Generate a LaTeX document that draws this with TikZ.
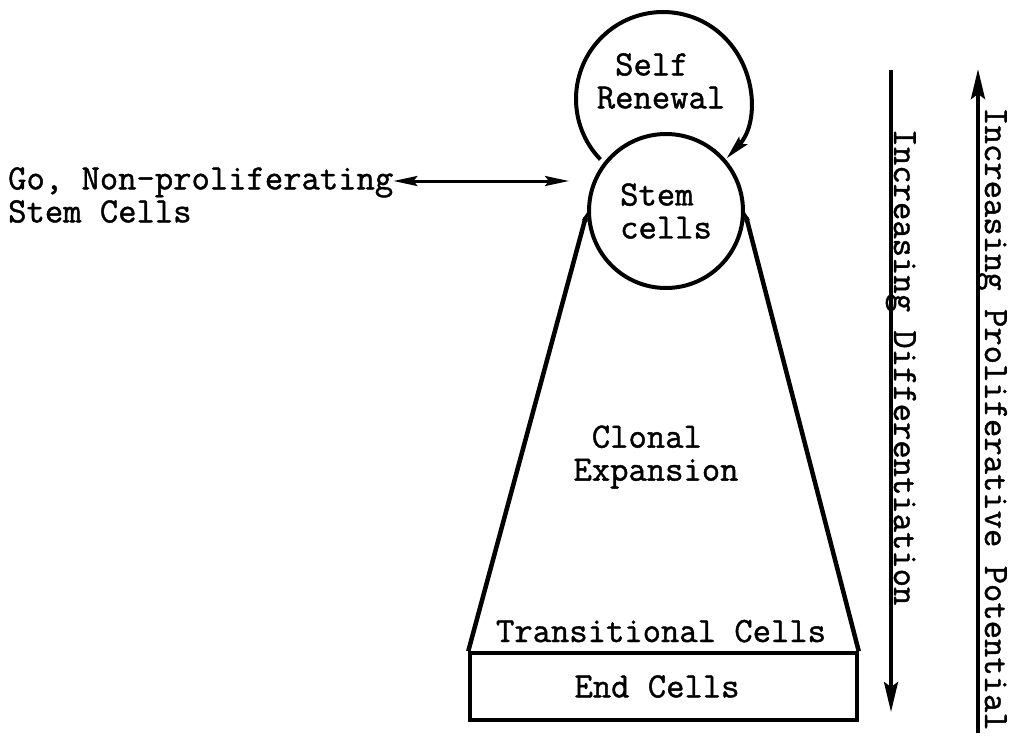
\documentclass[tikz,border=0pt]{standalone}
\usepackage{fontspec}
\setmonofont{Latin Modern Mono}[FakeBold=1.2]
\usetikzlibrary{arrows.meta,calc}
\begin{document}
\begin{tikzpicture}[x=1pt,y=-1pt,
  lbl/.style={font=\ttfamily\fontsize{35.6}{33}\selectfont, inner sep=0pt},
  bigarrow/.style={-{Stealth[length=30pt,width=14pt,inset=5pt]}},
  midarrow/.style={-{Stealth[length=24pt,width=11pt,inset=4pt]}},
  tinyarrow/.style={-{Stealth[length=9pt,width=6pt]}},
]
\useasboundingbox (0,0) rectangle (1014,737);

% stem cell compartment
\node[lbl, circle, draw, line width=4pt, minimum size=154pt, align=left]
  (stem) at (666,211) {Stem\\cells};

% self-renewal loop
\coordinate (loopc) at (663,99);
\node[lbl, align=center] (selfren) at (661,81) {Self\hphantom{x}\\Renewal};
\draw[line width=4pt, midarrow]
  ([shift={(136:87)}]loopc) arc[start angle=136, end angle=403, radius=87];

% quiescent pool
\node[lbl, align=left, anchor=west] (go) at (8,195)
  {Go, Non-proliferating\\Stem Cells};
\coordinate (goend) at (569,181);
\draw[line width=3pt, {Stealth[length=24pt,width=10pt,inset=4pt]}-{Stealth[length=24pt,width=10pt,inset=4pt]}]
  (go.east |- goend) -- (goend);

% end cells and transitional layer
\node[draw, line width=3.5pt, minimum width=387pt, minimum height=67pt, inner sep=0pt]
  (endbox) at (663.5,686.5) {};
\node[lbl] (endtxt) at (657,686.5) {End Cells};
\node[lbl, anchor=base] (trans) at (661,642) {Transitional Cells};

% clonal expansion cone
\draw[line width=4.5pt, tinyarrow] (endbox.north west) -- (stem.181);
\draw[line width=4.5pt, tinyarrow] (endbox.north east) -- (stem.359);
\node[lbl, align=center] (clonal) at (656,457) {Clonal\hphantom{x}\\Expansion};

% gradients
\coordinate (d1) at (891,70);
\coordinate (d2) at (891,712);
\draw[line width=3.5pt, bigarrow] (d1) -- (d2);
\node[lbl, rotate=-90, anchor=base] (diff) at (894,367) {Increasing Differentiation};

\coordinate (u1) at (978,733);
\coordinate (u2) at (978,69);
\draw[line width=4pt, bigarrow] (u1) -- (u2);
\node[lbl, rotate=-90, anchor=base] (prolif) at (985,419) {Increasing Proliferative Potential};
\end{tikzpicture}
\end{document}
